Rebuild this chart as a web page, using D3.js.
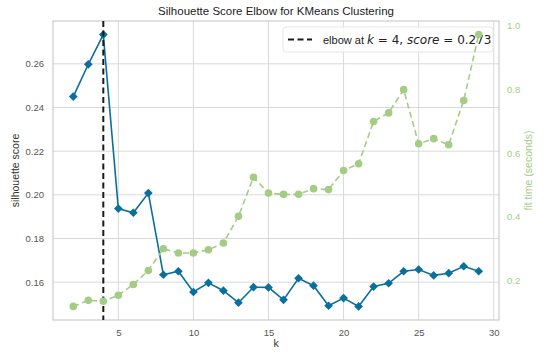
<!DOCTYPE html>
<html>
<head>
<meta charset="utf-8">
<script src="https://cdn.jsdelivr.net/npm/d3@7"></script>
<style>
  body { margin: 0; background: #fff; }
  text { font-family: "Liberation Sans", Arial, sans-serif; }
  .grid line { stroke: #d9d9d9; stroke-width: 1; }
  .axis text { fill: #555; font-size: 9.5px; }
  .axis path, .axis line { display: none; }
</style>
</head>
<body>
<div id="chart"></div>
<script>
// data
const kValues = [2, 3, 4, 5, 6, 7, 8, 9, 10, 11, 12, 13, 14, 15, 16, 17, 18, 19, 20, 21, 22, 23, 24, 25, 26, 27, 28, 29];
const silhouette = [0.2450, 0.2598, 0.2734, 0.1937, 0.1918, 0.2008, 0.1634, 0.1650, 0.1555, 0.1597,
    0.1561, 0.1506, 0.1577, 0.1576, 0.1519, 0.1618, 0.1584, 0.1492, 0.1527, 0.1489,
    0.1580, 0.1595, 0.1650, 0.1658, 0.1631, 0.1641, 0.1673, 0.1650];
const fitTime = [0.118, 0.137, 0.134, 0.153, 0.187, 0.231, 0.299, 0.286, 0.286, 0.296,
    0.317, 0.401, 0.524, 0.474, 0.470, 0.470, 0.488, 0.485, 0.545, 0.566,
    0.699, 0.726, 0.799, 0.629, 0.645, 0.626, 0.765, 0.972];
const elbowK = 4;
const elbowScore = 0.273;
const xTicks = [5, 10, 15, 20, 25, 30];
const yTicks = [0.16, 0.18, 0.20, 0.22, 0.24, 0.26];
const y2Ticks = [0.2, 0.4, 0.6, 0.8, 1.0];

const W = 547, H = 354;
const margin = {top: 21, right: 48, bottom: 34, left: 53};
const width = W - margin.left - margin.right;
const height = H - margin.top - margin.bottom;

const blue = "#0b6f9e";
const green = "#a5cc85";

// pad domain by 5% like matplotlib
function padded(vals) {
    let [lo, hi] = d3.extent(vals);
    let p = (hi - lo) * 0.05;
    return [lo - p, hi + p];
}

const svg = d3.select("#chart").append("svg")
    .attr("width", W)
    .attr("height", H);

const g = svg.append("g")
    .attr("transform", `translate(${margin.left},${margin.top})`);

const x = d3.scaleLinear().domain(padded(kValues)).range([0, width]);
const y = d3.scaleLinear().domain(padded(silhouette)).range([height, 0]);
const y2 = d3.scaleLinear().domain(padded(fitTime)).range([height, 0]);

// grid
g.append("g").attr("class", "grid")
    .selectAll("line.v").data(xTicks.filter(d => x(d) < width)).enter().append("line")
    .attr("x1", d => x(d)).attr("x2", d => x(d))
    .attr("y1", 0).attr("y2", height);
g.append("g").attr("class", "grid")
    .selectAll("line.h").data(yTicks).enter().append("line")
    .attr("x1", 0).attr("x2", width)
    .attr("y1", d => y(d)).attr("y2", d => y(d));

// frame
g.append("rect")
    .attr("width", width).attr("height", height)
    .attr("fill", "none")
    .attr("stroke", "#cccccc")
    .attr("stroke-width", 1.2);

// axes
g.append("g").attr("class", "axis")
    .attr("transform", `translate(0,${height})`)
    .call(d3.axisBottom(x).tickValues(xTicks).tickFormat(d3.format("d")).tickSize(0).tickPadding(9));

g.append("g").attr("class", "axis")
    .call(d3.axisLeft(y).tickValues(yTicks).tickFormat(d3.format(".2f")).tickSize(0).tickPadding(9));

const rAxis = g.append("g").attr("class", "axis")
    .attr("transform", `translate(${width},0)`)
    .call(d3.axisRight(y2).tickValues(y2Ticks).tickFormat(d3.format(".1f")).tickSize(0).tickPadding(8));
rAxis.selectAll("text").style("fill", green);

// silhouette line
const line = d3.line().x((d, i) => x(kValues[i])).y(d => y(d));
g.append("path")
    .datum(silhouette)
    .attr("fill", "none")
    .attr("stroke", blue)
    .attr("stroke-width", 1.6)
    .attr("d", line);

g.selectAll(".diamond").data(silhouette).enter().append("path")
    .attr("class", "diamond")
    .attr("d", d3.symbol().type(d3.symbolSquare).size(38))
    .attr("transform", (d, i) => `translate(${x(kValues[i])},${y(d)}) rotate(45)`)
    .attr("fill", blue);

// elbow line
g.append("line")
    .attr("x1", x(elbowK)).attr("x2", x(elbowK))
    .attr("y1", 0).attr("y2", height)
    .attr("stroke", "#1a1a1a")
    .attr("stroke-width", 2)
    .attr("stroke-dasharray", "6,3.5");

// legend
const leg = g.append("g").attr("transform", "translate(230,6)");
leg.append("rect")
    .attr("width", 210).attr("height", 25)
    .attr("rx", 3)
    .attr("fill", "white").attr("fill-opacity", 0.8)
    .attr("stroke", "#e6e6e6");
leg.append("line")
    .attr("x1", 5).attr("x2", 29).attr("y1", 12.5).attr("y2", 12.5)
    .attr("stroke", "#1a1a1a").attr("stroke-width", 2)
    .attr("stroke-dasharray", "6,3.5");
const lt = leg.append("text")
    .attr("x", 40).attr("y", 16.5)
    .style("font-size", "11px")
    .style("fill", "#222");
lt.append("tspan").text("elbow at ");
lt.append("tspan").style("font-family", "DejaVu Sans").style("font-style", "italic").style("font-size", "12px").text("k");
lt.append("tspan").style("font-family", "DejaVu Sans").style("font-size", "12px").text(" = " + elbowK + ", ");
lt.append("tspan").style("font-family", "DejaVu Sans").style("font-style", "italic").style("font-size", "12px").text("score");
lt.append("tspan").style("font-family", "DejaVu Sans").style("font-size", "12px").text(" = " + elbowScore);

// fit time line (twin axis, drawn on top)
const line2 = d3.line().x((d, i) => x(kValues[i])).y(d => y2(d));
g.append("path")
    .datum(fitTime)
    .attr("fill", "none")
    .attr("stroke", green)
    .attr("stroke-width", 1.6)
    .attr("stroke-dasharray", "6,3.5")
    .attr("d", line2);
g.selectAll(".dot").data(fitTime).enter().append("circle")
    .attr("class", "dot")
    .attr("cx", (d, i) => x(kValues[i]))
    .attr("cy", d => y2(d))
    .attr("r", 3.8)
    .attr("fill", green);

// labels
svg.append("text")
    .attr("x", margin.left + width / 2).attr("y", 15)
    .attr("text-anchor", "middle")
    .style("font-size", "11.5px").style("fill", "#222")
    .text("Silhouette Score Elbow for KMeans Clustering");

svg.append("text")
    .attr("x", margin.left + width / 2).attr("y", 347)
    .attr("text-anchor", "middle")
    .style("font-size", "10.5px").style("fill", "#333")
    .text("k");

svg.append("text")
    .attr("transform", `translate(19,${margin.top + height / 2}) rotate(-90)`)
    .attr("text-anchor", "middle")
    .style("font-size", "10.5px").style("fill", "#333")
    .text("silhouette score");

svg.append("text")
    .attr("transform", `translate(532,${margin.top + height / 2}) rotate(-90)`)
    .attr("text-anchor", "middle")
    .style("font-size", "10.5px").style("fill", green)
    .text("fit time (seconds)");
</script>
</body>
</html>
